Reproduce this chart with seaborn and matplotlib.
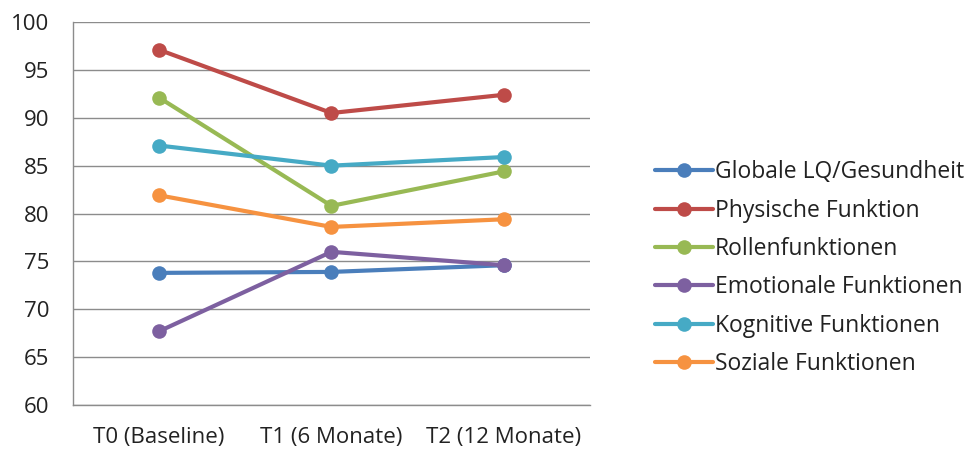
import matplotlib
matplotlib.use("Agg")
import matplotlib.pyplot as plt
from matplotlib.ticker import FixedLocator
import pandas as pd
import seaborn as sns

zeitpunkte = ["T0 (Baseline)", "T1 (6 Monate)", "T2 (12 Monate)"]
skalen = [
    "Globale LQ/Gesundheit",
    "Physische Funktion",
    "Rollenfunktionen",
    "Emotionale Funktionen",
    "Kognitive Funktionen",
    "Soziale Funktionen",
]
globale = [73.8, 73.9, 74.6]
physische = [97.1, 90.5, 92.4]
rollen = [92.1, 80.8, 84.4]
emotionale = [67.7, 76.0, 74.6]
kognitive = [87.1, 85.0, 85.9]
soziale = [81.9, 78.6, 79.4]
farben = ["#4A7EBB", "#BE4B48", "#98B954", "#7D60A0", "#46AAC5", "#F69240"]

werte = [globale, physische, rollen, emotionale, kognitive, soziale]
df = pd.DataFrame(
    [(i, name, v) for name, reihe in zip(skalen, werte) for i, v in enumerate(reihe)],
    columns=["t", "Skala", "Wert"],
)

sns.set_style("white")
plt.rcParams["font.family"] = ["Open Sans", "DejaVu Sans"]

fig = plt.figure(figsize=(9.68, 4.5), dpi=100)
ax = fig.add_axes([0.0754, 0.1, 0.534, 0.851])

sns.lineplot(
    data=df, x="t", y="Wert", hue="Skala", hue_order=skalen,
    palette=farben, marker="o", markersize=10.5, markeredgewidth=0,
    linewidth=3, ax=ax, legend=True,
)

ax.set_xlim(-0.5, 2.5)
ax.set_ylim(60, 100)
ax.set_yticks(range(60, 101, 5))
ax.yaxis.grid(True, color="#8C8C8C", linewidth=1)
ax.xaxis.grid(False)
ax.set_xticks([0, 1, 2])
ax.set_xticklabels(zeitpunkte)
ax.xaxis.set_minor_locator(FixedLocator([-0.5, 0.5, 1.5, 2.5]))
ax.tick_params(axis="x", which="major", length=0, pad=16, labelsize=16, labelcolor="#222222")
ax.tick_params(axis="x", which="minor", length=7, width=1, color="#8C8C8C", direction="out")
ax.tick_params(axis="y", length=7, width=1, color="#8C8C8C", direction="out",
               labelsize=16, labelcolor="#222222", pad=10)
ax.set_xlabel("")
ax.set_ylabel("")
for side in ["top", "right"]:
    ax.spines[side].set_visible(False)
for side in ["left", "bottom"]:
    ax.spines[side].set_color("#8C8C8C")
    ax.spines[side].set_linewidth(1)

handles, labels = ax.get_legend_handles_labels()
ax.legend_.remove()
fig.legend(
    handles, labels, loc="center left", bbox_to_anchor=(0.677, 0.404),
    frameon=False, fontsize=16.5, handlelength=2.5, handletextpad=0.1,
    labelspacing=0.63, labelcolor="#222222", borderpad=0, borderaxespad=0,
)

fig.savefig("out.png", dpi=100)
